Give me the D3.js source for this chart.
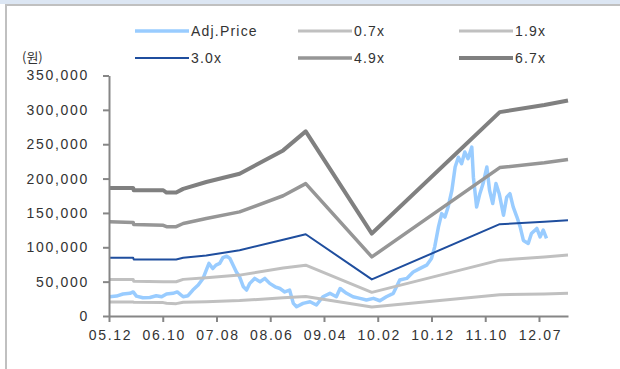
<!DOCTYPE html>
<html>
<head>
<meta charset="utf-8">
<script src="https://d3js.org/d3.v7.min.js"></script>
<style>
  body { margin: 0; background: #fff; }
  text { font-family: "Liberation Sans", Arial, sans-serif; fill: #333; }
</style>
</head>
<body>
<svg id="chart"></svg>
<script>
  // x values are months counted from 2005.12
  var tickMonths = [0, 10, 20, 30, 40, 50, 60, 70, 80];
  var tickLabels = ["05.12", "06.10", "07.08", "08.06", "09.04", "10.02", "10.12", "11.10", "12.07"];
  var yTicks = [0, 50000, 100000, 150000, 200000, 250000, 300000, 350000];

  var seriesNames = ["Adj.Price", "0.7x", "1.9x", "3.0x", "4.9x", "6.7x"];

  // adjusted price
  var priceMonths = [0.1, 1.4, 2.6, 3.9, 4.5, 5.1, 6.3, 7.6, 8.8, 9.8, 10.7, 11.9, 12.7, 13.8, 14.7, 15.6, 16.6, 17.5, 18.1, 18.6,
    19.3, 19.9, 20.6, 21.2, 21.9, 22.5, 23.1, 23.7, 24.3, 25.0, 25.6, 26.2, 27.1, 28.1, 29.0, 29.9, 30.9, 31.8, 32.7, 33.6,
    34.3, 34.9, 36.1, 37.4, 38.6, 39.8, 41.1, 42.3, 43.0, 44.2, 45.4, 46.7, 47.9, 49.2, 50.4, 51.6, 52.9, 54.1, 55.4, 56.6,
    57.8, 59.1, 60.0, 60.6, 61.3, 61.9, 62.5, 63.1, 63.8, 64.4, 65.0, 65.6, 66.2, 66.8, 67.5, 67.8, 68.4, 69.0, 69.6, 70.3,
    70.8, 71.4, 72.0, 72.6, 73.4, 74.0, 74.6, 75.2, 75.9, 76.5, 77.1, 78.0, 78.6, 79.6, 80.2, 80.8, 81.4];
  var priceValues = [28000, 29000, 32000, 33000, 35000, 29000, 26600, 27000, 29500, 28000, 32000, 33000, 35000, 28000, 29500, 37800, 45000, 54700, 66800, 76500,
    69000, 74000, 76500, 85000, 87000, 83800, 74000, 64000, 57000, 42500, 37800, 47500, 54700, 49800, 54700, 47500, 42500, 40000, 35000, 37800,
    18400, 13500, 18400, 20800, 16000, 28000, 33000, 28000, 40000, 33000, 28000, 25700, 23200, 25700, 22200, 28000, 33000, 52300, 54700, 64000,
    69000, 74000, 83800, 100600, 129700, 149000, 144000, 158700, 183000, 216800, 231000, 221700, 238600, 229000, 245800, 202000, 158700, 178000, 192700, 216800,
    183000, 163700, 192700, 178000, 146700, 173000, 178000, 158700, 144000, 129700, 110000, 105600, 120000, 127400, 115000, 125000, 112800];

  // PER band lines share the same knot months
  var bandMonths = [0.1, 4.5, 4.6, 10.1, 10.7, 12.5, 13.8, 18.1, 24.3, 32.4, 36.6, 48.9, 72.7, 81.0, 85.4];
  var band07 = [20500, 20500, 20000, 19500, 18500, 18000, 20000, 20800, 22500, 26500, 28500, 13000, 31000, 32000, 33000];
  var band19 = [53300, 53300, 50500, 49800, 49800, 49800, 53300, 55500, 59500, 70000, 74000, 34400, 81300, 86000, 88600];
  var band30 = [84700, 84700, 82300, 82300, 82300, 82300, 84700, 88000, 95800, 111000, 119000, 53300, 133600, 137000, 139400];
  var band49 = [137000, 136000, 133000, 132000, 130000, 130000, 134600, 142000, 151500, 175000, 192700, 86000, 216000, 223000, 227600];
  var band67 = [186300, 186300, 183000, 183000, 179600, 179600, 185000, 195000, 207000, 241000, 268700, 120000, 296700, 307000, 313700];

  var width = 620, height = 369;

  var svg = d3.select('#chart')
    .attr("width", width)
    .attr("height", height);

  // window frame: light blue strip on top, grey borders
  svg.append("rect").attr("x", 0).attr("y", 0).attr("width", width).attr("height", 4).attr("fill", "#dce6f3");
  svg.append("line").attr("x1", 5).attr("x2", width).attr("y1", 5).attr("y2", 5)
    .attr("stroke", "#c0c0c0").attr("stroke-width", 2);
  svg.append("line").attr("x1", 6).attr("x2", 6).attr("y1", 4).attr("y2", height)
    .attr("stroke", "#c0c0c0").attr("stroke-width", 2);

  var x = d3.scaleLinear()
    .domain([0, 85.4])
    .range([109, 568]);
  var y = d3.scaleLinear()
    .domain([0, 350000])
    .range([316, 75.5]);

  var series = [
    {name: seriesNames[0], months: priceMonths, values: priceValues, color: "#99ccff", w: 3.5},
    {name: seriesNames[1], months: bandMonths, values: band07, color: "#c0c0c0", w: 3},
    {name: seriesNames[2], months: bandMonths, values: band19, color: "#c0c0c0", w: 3},
    {name: seriesNames[3], months: bandMonths, values: band30, color: "#1f4e9e", w: 2},
    {name: seriesNames[4], months: bandMonths, values: band49, color: "#969696", w: 3.5},
    {name: seriesNames[5], months: bandMonths, values: band67, color: "#808080", w: 4}
  ];

  var line = d3.line()
    .x(function(d) { return x(d[0]); })
    .y(function(d) { return y(d[1]); });

  series.forEach(function(s) {
    svg.append("path")
      .datum(s.months.map(function(m, i) { return [m, s.values[i]]; }))
      .attr("d", line)
      .attr("fill", "none")
      .attr("stroke", s.color)
      .attr("stroke-width", s.w)
      .attr("stroke-linejoin", "round");
  });

  // y axis
  var yAxis = svg.append("g")
    .attr("transform", "translate(109,0)")
    .call(d3.axisLeft(y).tickValues(yTicks).tickSize(6).tickSizeOuter(0).tickPadding(14)
      .tickFormat(d3.format(",")));

  // x axis
  var xAxis = svg.append("g")
    .attr("transform", "translate(0,316)")
    .call(d3.axisBottom(x).tickValues(tickMonths).tickSize(6).tickSizeOuter(0).tickPadding(8)
      .tickFormat(function(d, i) { return tickLabels[i]; }));

  [yAxis, xAxis].forEach(function(g) {
    g.select(".domain").attr("stroke", "#868686").attr("stroke-width", 2);
    g.selectAll(".tick line").attr("stroke", "#868686").attr("stroke-width", 2);
    g.selectAll(".tick text")
      .style("font-family", "'Liberation Sans', Arial, sans-serif")
      .style("font-size", "14px")
      .style("letter-spacing", "1.7px")
      .attr("fill", "#333");
  });
  xAxis.selectAll(".tick text").attr("dx", "1px");

  // unit label
  svg.append("text")
    .attr("x", 22)
    .attr("y", 62)
    .style("font-family", "'Noto Sans CJK KR', sans-serif")
    .style("font-size", "13px")
    .text("(원)");

  // legend, 3 columns x 2 rows
  var legendX = [135, 298, 459];
  var legendY = [31, 58];
  series.forEach(function(s, i) {
    var lx = legendX[i % 3], ly = legendY[Math.floor(i / 3)];
    svg.append("line")
      .attr("x1", lx).attr("x2", lx + 54)
      .attr("y1", ly).attr("y2", ly)
      .attr("stroke", s.color)
      .attr("stroke-width", s.w);
    svg.append("text")
      .attr("x", lx + 56)
      .attr("y", ly + 5)
      .style("font-size", "14px")
      .style("letter-spacing", "1.2px")
      .text(s.name);
  });
</script>
</body>
</html>
